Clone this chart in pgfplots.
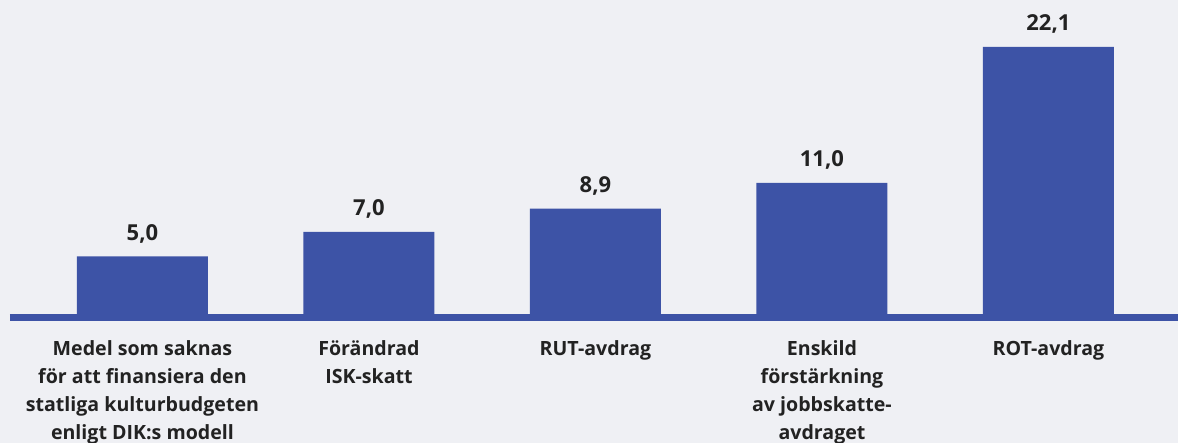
\documentclass[border=0pt]{standalone}
\usepackage{fontspec}
\setmainfont{Open Sans}
\usepackage{pgfplots}
\pgfplotsset{compat=1.18}
\definecolor{barblue}{HTML}{3D53A6}
\definecolor{bggray}{HTML}{EFF0F4}
\definecolor{ink}{HTML}{222222}

\begin{document}
\begin{tikzpicture}
\begin{axis}[
  scale only axis, width=589pt, height=221.5pt,
  xmin=-0.629, xmax=4.572, ymin=-10.25, ymax=25.94,
  axis x line=middle, axis y line=none,
  x axis line style={draw=none},
  axis background/.style={fill=bggray},
  clip=false,
  ybar, bar width=65.5pt,
  xtick={0,1,2,3,4}, major tick length=0pt,
  xticklabels={{Medel som saknas\\för att finansiera den\\statliga kulturbudgeten\\enligt DIK:s modell},
    {Förändrad\\ISK-skatt}, {RUT-avdrag},
    {Enskild\\förstärkning\\av jobbskatte-\\avdraget}, {ROT-avdrag}},
  xticklabel style={font=\bfseries\fontsize{9.8}{14}\selectfont, text=ink,
    align=center, anchor=north, yshift=-8pt},
  nodes near coords,
  every node near coord/.append style={font=\bfseries\fontsize{11}{12}\selectfont,
    text=ink, anchor=base, yshift=8pt,
    /pgf/number format/.cd, fixed, fixed zerofill, precision=1, use comma,
    assume math mode=true},
]
\draw[barblue, line width=3.5pt] (axis cs:-0.585,0) -- (axis cs:4.572,0);
\addplot[fill=barblue, draw=none] coordinates
  {(0,5.0) (1,7.0) (2,8.9) (3,11.0) (4,22.1)};
\end{axis}
\pgfresetboundingbox
\useasboundingbox (current axis.south west) rectangle (current axis.north east);
\end{tikzpicture}
\end{document}
